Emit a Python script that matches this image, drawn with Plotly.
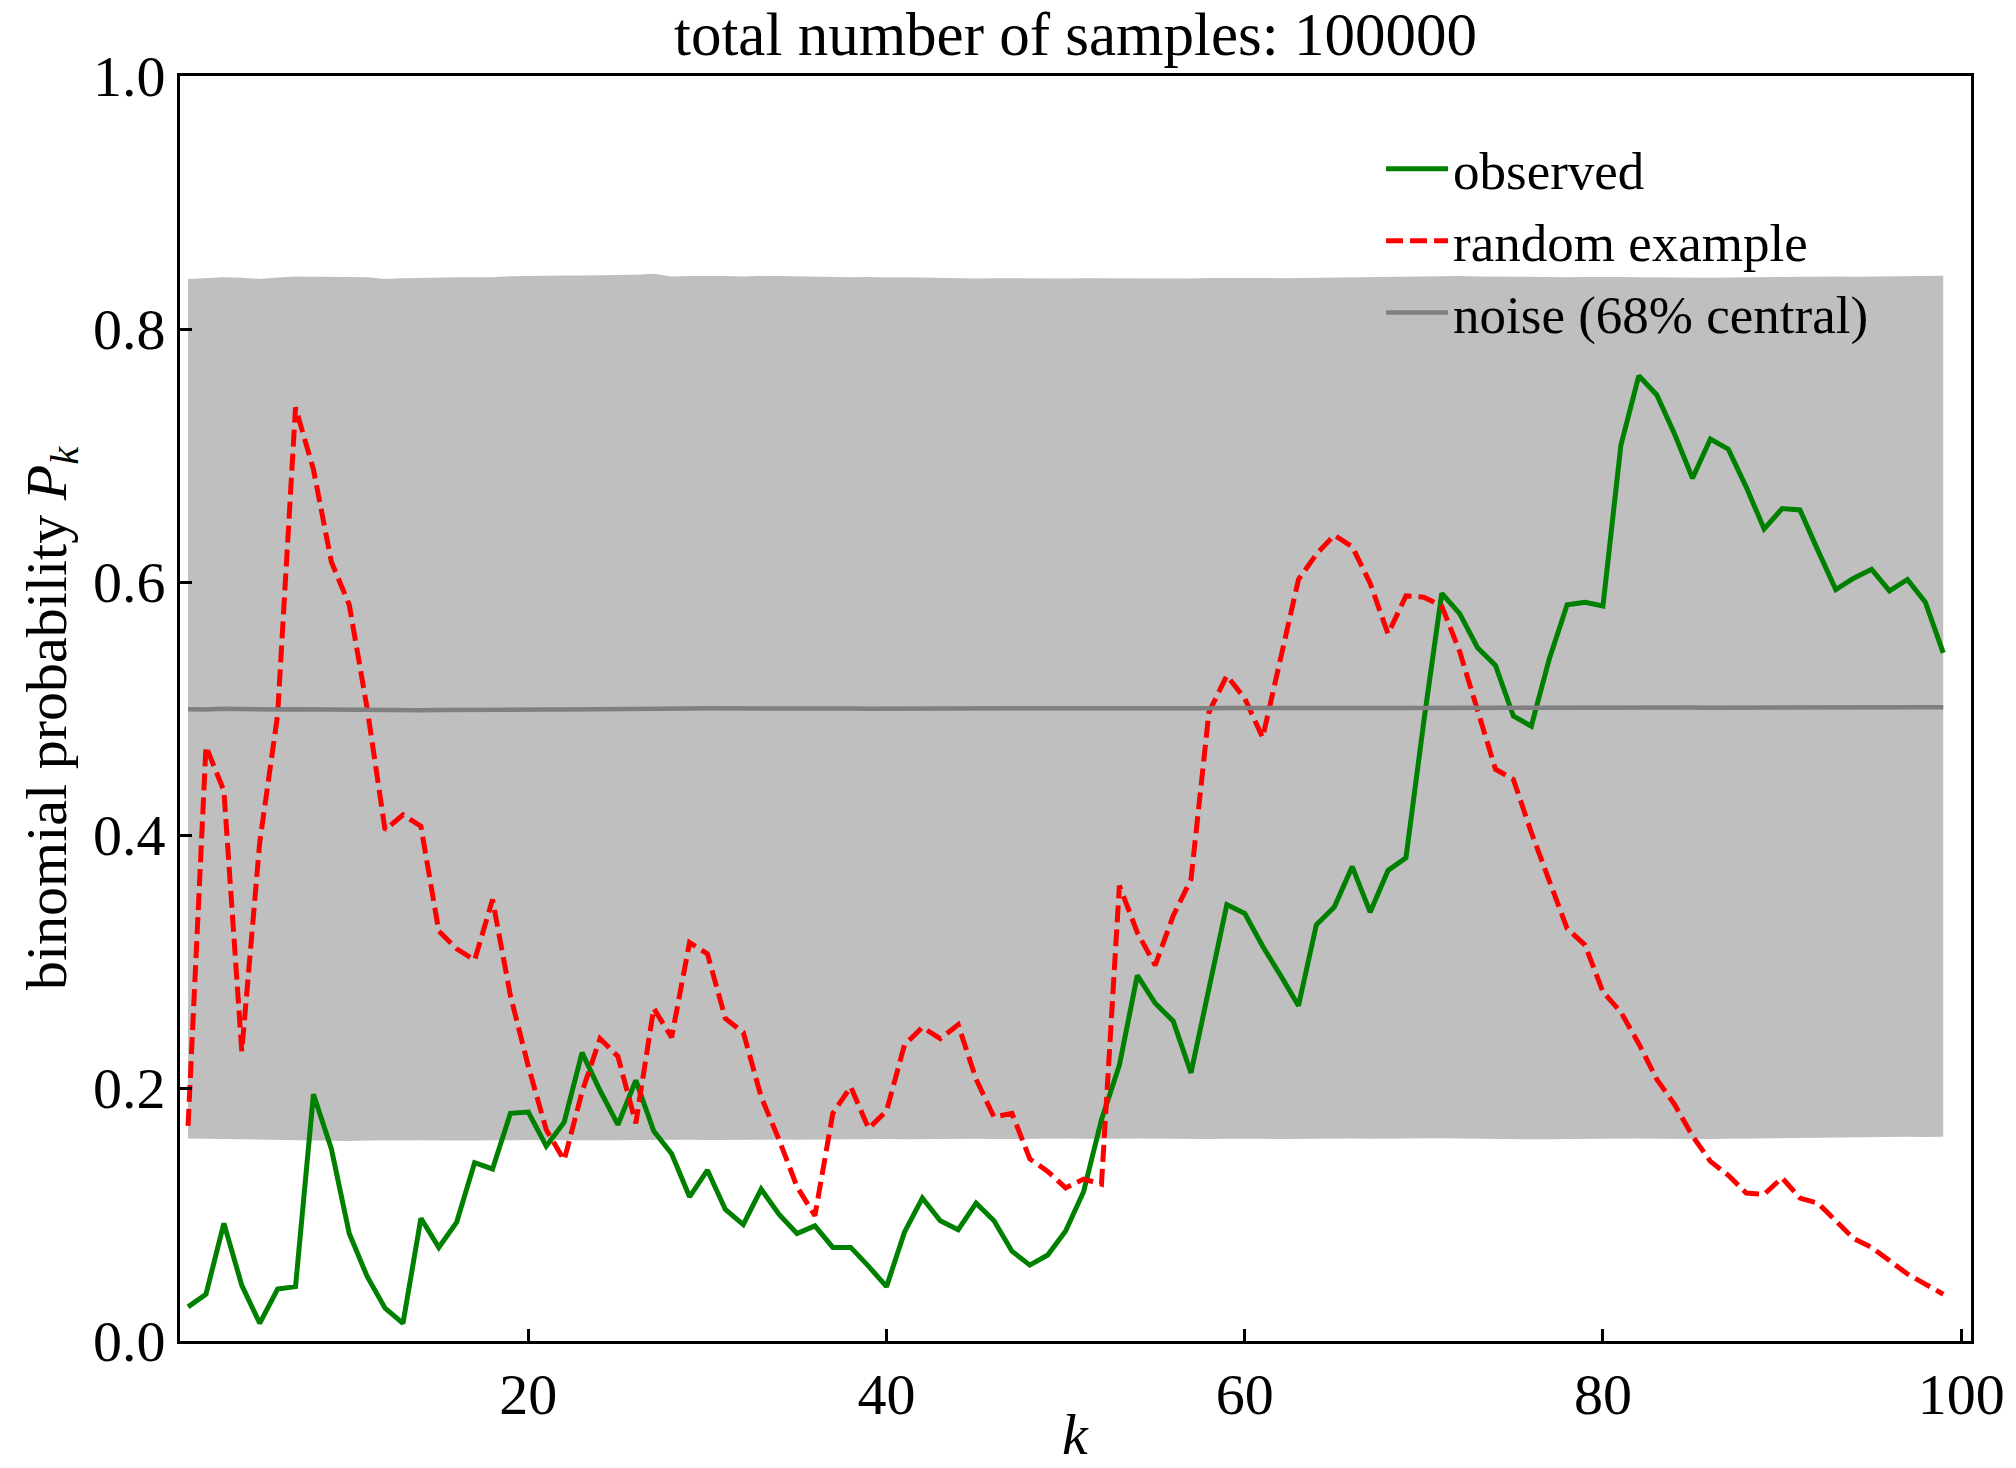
import plotly.graph_objects as go

k = list(range(1, 100))

observed = [
    0.027, 0.037, 0.093, 0.044, 0.014, 0.041, 0.043, 0.195, 0.152, 0.085,
    0.051, 0.026, 0.014, 0.097, 0.074, 0.094, 0.141, 0.136, 0.180, 0.181,
    0.154, 0.173, 0.228, 0.198, 0.171, 0.206, 0.166, 0.148, 0.114, 0.135,
    0.104, 0.092, 0.120, 0.100, 0.085, 0.091, 0.074, 0.074, 0.059, 0.043,
    0.086, 0.113, 0.095, 0.088, 0.109, 0.095, 0.071, 0.060, 0.068, 0.087,
    0.118, 0.175, 0.218, 0.289, 0.267, 0.253, 0.212, 0.278, 0.345, 0.338,
    0.312, 0.289, 0.265, 0.329, 0.343, 0.375, 0.339, 0.372, 0.382, 0.490,
    0.591, 0.575, 0.548, 0.534, 0.494, 0.486, 0.539, 0.582, 0.584, 0.581,
    0.708, 0.763, 0.748, 0.717, 0.682, 0.713, 0.705, 0.675, 0.642, 0.658,
    0.657, 0.625, 0.594, 0.603, 0.610, 0.593, 0.602, 0.584, 0.544,
]

random_example = [
    0.170, 0.470, 0.435, 0.229, 0.394, 0.495, 0.738, 0.689, 0.616, 0.582,
    0.500, 0.404, 0.416, 0.407, 0.324, 0.310, 0.301, 0.349, 0.273, 0.217,
    0.167, 0.143, 0.197, 0.239, 0.225, 0.172, 0.263, 0.240, 0.315, 0.306,
    0.255, 0.244, 0.193, 0.159, 0.122, 0.099, 0.180, 0.201, 0.168, 0.182,
    0.234, 0.248, 0.239, 0.250, 0.207, 0.177, 0.180, 0.144, 0.134, 0.121,
    0.128, 0.124, 0.360, 0.323, 0.297, 0.336, 0.365, 0.497, 0.526, 0.508,
    0.477, 0.538, 0.602, 0.622, 0.637, 0.628, 0.599, 0.559, 0.589, 0.588,
    0.581, 0.545, 0.497, 0.452, 0.444, 0.402, 0.364, 0.326, 0.313, 0.276,
    0.260, 0.235, 0.207, 0.187, 0.162, 0.142, 0.131, 0.117, 0.116, 0.129,
    0.113, 0.109, 0.095, 0.081, 0.074, 0.064, 0.053, 0.045, 0.037,
]

noise_upper = [
    0.8396, 0.8402, 0.8410, 0.8405, 0.8396, 0.8408, 0.8415, 0.8414, 0.8415, 0.8412,
    0.8410, 0.8396, 0.8402, 0.8406, 0.8410, 0.8409, 0.8410, 0.8410, 0.8417, 0.8420,
    0.8423, 0.8422, 0.8423, 0.8424, 0.8423, 0.8428, 0.8436, 0.8415, 0.8418, 0.8420,
    0.8418, 0.8416, 0.8420, 0.8418, 0.8415, 0.8412, 0.8414, 0.8410, 0.8412, 0.8408,
    0.8410, 0.8406, 0.8404, 0.8402, 0.8400, 0.8401, 0.8400, 0.8399, 0.8400, 0.8400,
    0.8402, 0.8401, 0.8400, 0.8402, 0.8404, 0.8402, 0.8400, 0.8403, 0.8405, 0.8406,
    0.8404, 0.8402, 0.8404, 0.8406, 0.8408, 0.8410, 0.8412, 0.8414, 0.8416, 0.8418,
    0.8420, 0.8418, 0.8416, 0.8414, 0.8412, 0.8410, 0.8408, 0.8410, 0.8412, 0.8414,
    0.8412, 0.8410, 0.8408, 0.8406, 0.8404, 0.8406, 0.8408, 0.8410, 0.8412, 0.8414,
    0.8416, 0.8418, 0.8416, 0.8414, 0.8416, 0.8418, 0.8420, 0.8418, 0.8420,
]

noise_lower = [
    0.1600, 0.1598, 0.1596, 0.1594, 0.1590, 0.1588, 0.1585, 0.1584, 0.1580, 0.1582,
    0.1584, 0.1586, 0.1588, 0.1586, 0.1584, 0.1582, 0.1584, 0.1586, 0.1588, 0.1590,
    0.1588, 0.1586, 0.1585, 0.1584, 0.1586, 0.1588, 0.1590, 0.1592, 0.1590, 0.1588,
    0.1590, 0.1592, 0.1594, 0.1592, 0.1590, 0.1592, 0.1594, 0.1596, 0.1598, 0.1596,
    0.1594, 0.1596, 0.1598, 0.1600, 0.1598, 0.1596, 0.1598, 0.1600, 0.1602, 0.1600,
    0.1598, 0.1596, 0.1598, 0.1600, 0.1598, 0.1596, 0.1595, 0.1596, 0.1598, 0.1600,
    0.1598, 0.1596, 0.1598, 0.1600, 0.1602, 0.1600, 0.1598, 0.1600, 0.1602, 0.1604,
    0.1602, 0.1600, 0.1598, 0.1596, 0.1594, 0.1592, 0.1594, 0.1596, 0.1598, 0.1600,
    0.1602, 0.1600, 0.1598, 0.1596, 0.1594, 0.1596, 0.1598, 0.1600, 0.1602, 0.1604,
    0.1606, 0.1608, 0.1610, 0.1608, 0.1610, 0.1612, 0.1614, 0.1612, 0.1614,
]

noise_median = [
    0.4995, 0.4992, 0.4998, 0.4994, 0.4990, 0.4992, 0.4995, 0.4993, 0.4990, 0.4988,
    0.4987, 0.4988, 0.4987, 0.4986, 0.4988, 0.4990, 0.4992, 0.4993, 0.4991, 0.4990,
    0.4992, 0.4993, 0.4995, 0.4998, 0.5000, 0.5002, 0.5003, 0.5002, 0.5000, 0.5001,
    0.5002, 0.5000, 0.5001, 0.5000, 0.5001, 0.5002, 0.5001, 0.5000, 0.4999, 0.5000,
    0.5001, 0.5000, 0.4999, 0.5000, 0.5001, 0.5000, 0.4999, 0.5000, 0.5001, 0.5002,
    0.5001, 0.5000, 0.5001, 0.5002, 0.5001, 0.5000, 0.5001, 0.5002, 0.5003, 0.5002,
    0.5001, 0.5002, 0.5001, 0.5000, 0.5001, 0.5002, 0.5003, 0.5004, 0.5003, 0.5004,
    0.5005, 0.5004, 0.5005, 0.5006, 0.5005, 0.5006, 0.5007, 0.5006, 0.5007, 0.5006,
    0.5007, 0.5006, 0.5007, 0.5008, 0.5007, 0.5006, 0.5007, 0.5008, 0.5007, 0.5008,
    0.5009, 0.5008, 0.5007, 0.5008, 0.5009, 0.5008, 0.5009, 0.5010, 0.5009,
]

title_text = "total number of samples: 100000"
x_label = "<i>k</i>"
y_label = "binomial probability <i>P</i><sub><i>k</i></sub>"
x_ticks = [20, 40, 60, 80, 100]
y_ticks = [0.0, 0.2, 0.4, 0.6, 0.8, 1.0]

FONT = "Liberation Serif, Times New Roman, serif"
FS_TICK = 58
FS_TITLE = 61
FS_LABEL = 58
FS_LEG = 53

W, H = 2016, 1468
ML, MR, MT, MB = 180, 45, 76, 127
PW, PH = W - ML - MR, H - MT - MB

fig = go.Figure()

fig.add_trace(go.Scatter(
    x=k, y=noise_lower, mode="lines", line=dict(width=0, color="#bfbfbf"),
    showlegend=False, hoverinfo="skip"))
fig.add_trace(go.Scatter(
    x=k, y=noise_upper, mode="lines", line=dict(width=0, color="#bfbfbf"),
    fill="tonexty", fillcolor="#bfbfbf", showlegend=False, hoverinfo="skip"))

fig.add_trace(go.Scatter(
    x=k, y=observed, mode="lines", name="observed",
    line=dict(color="#008000", width=5)))
fig.add_trace(go.Scatter(
    x=k, y=random_example, mode="lines", name="random example",
    line=dict(color="#ff0000", width=5, dash="17px,7px")))
fig.add_trace(go.Scatter(
    x=k, y=noise_median, mode="lines", name="noise (68% central)",
    line=dict(color="#808080", width=4.5)))

fig.update_layout(
    width=W, height=H,
    margin=dict(l=ML, r=MR, t=MT, b=MB, autoexpand=False),
    paper_bgcolor="white", plot_bgcolor="white",
    font=dict(family=FONT, size=FS_TICK, color="black"),
    title=dict(text=title_text, x=0.5, xref="paper", xanchor="center",
               y=1 - 34 / H, yref="container", yanchor="middle",
               font=dict(family=FONT, size=FS_TITLE, color="black")),
    showlegend=True,
    legend=dict(x=0.6706, y=0.959, xanchor="left", yanchor="top",
                traceorder="normal", itemwidth=62,
                bgcolor="rgba(0,0,0,0)", borderwidth=0,
                font=dict(family=FONT, size=FS_LEG, color="black"),
                tracegroupgap=0),
    xaxis=dict(
        range=[0.55, 100.55], tickmode="array", tickvals=x_ticks,
        ticktext=[str(v) for v in x_ticks], automargin=False,
        ticks="inside", ticklen=12, tickwidth=2.5, tickcolor="black",
        showline=True, linecolor="black", linewidth=3, mirror=True,
        showgrid=False, zeroline=False,
        tickfont=dict(family=FONT, size=FS_TICK, color="black"),
    ),
    yaxis=dict(
        range=[0, 1], tickmode="array", tickvals=y_ticks,
        ticktext=[f"{v:.1f}" for v in y_ticks], automargin=False,
        ticks="inside", ticklen=12, tickwidth=2.5, tickcolor="black",
        showline=True, linecolor="black", linewidth=3, mirror=True,
        showgrid=False, zeroline=False,
        tickfont=dict(family=FONT, size=FS_TICK, color="black"),
    ),
    annotations=[
        dict(text=x_label, xref="paper", yref="paper",
             x=0.5, y=-(1434 - (MT + PH)) / PH, xanchor="center", yanchor="middle",
             showarrow=False, font=dict(family=FONT, size=FS_LABEL, color="black")),
        dict(text=y_label, xref="paper", yref="paper",
             x=(50 - ML) / PW, y=1 - (718 - MT) / PH, xanchor="center", yanchor="middle",
             textangle=-90, showarrow=False,
             font=dict(family=FONT, size=FS_LABEL, color="black")),
    ],
)

fig.write_html("out.html")
